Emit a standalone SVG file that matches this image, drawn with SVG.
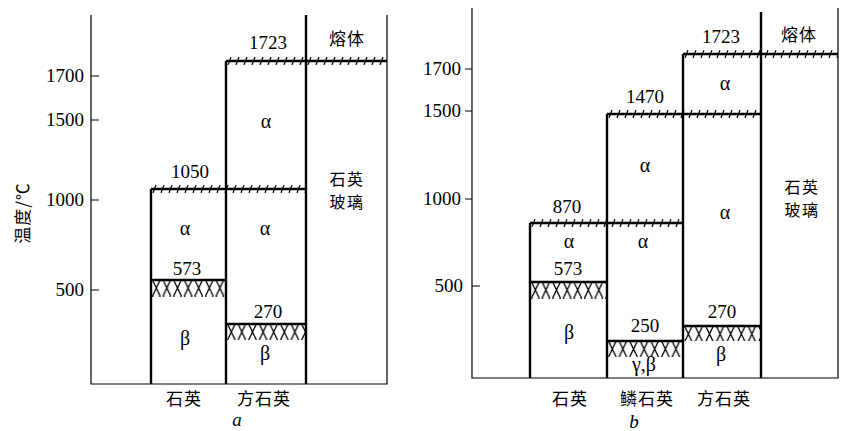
<svg xmlns="http://www.w3.org/2000/svg" width="842" height="431" viewBox="0 0 842 431">
<defs>
<pattern id="melt" patternUnits="userSpaceOnUse" x="0" y="-4" width="8" height="8">
<line x1="2" y1="8" x2="5" y2="0" stroke="#000" stroke-width="1.2"/>
</pattern>
<pattern id="cross" patternUnits="userSpaceOnUse" x="0" y="0" width="10.6" height="16">
<path d="M1.5,0 L9.1,16 M9.1,0 L1.5,16" stroke="#000" stroke-width="1.3" fill="none"/>
</pattern>
</defs>
<style>
.thin{stroke:#000;stroke-width:1.2;fill:none}
.thick{stroke:#000;stroke-width:2.4;fill:none}
.num{font-family:"Liberation Serif",serif;font-size:19px;text-anchor:middle;fill:#000}
.tk{font-family:"Liberation Serif",serif;font-size:19px;text-anchor:end;fill:#000}
.cjk{font-family:"Noto Sans CJK SC",sans-serif;font-size:17px;text-anchor:middle;fill:#000;letter-spacing:1px}
.cjk2{font-family:"Noto Sans CJK SC",sans-serif;font-size:16px;text-anchor:middle;fill:#000;letter-spacing:1.5px}
.gr{font-family:"Liberation Serif",serif;font-size:20px;text-anchor:middle;fill:#000}
.it{font-family:"Liberation Serif",serif;font-size:19px;font-style:italic;text-anchor:middle;fill:#000}
</style>
<rect width="842" height="431" fill="#fff"/>

<!-- Panel a -->
<g id="panel-a">
<g id="a-axes">
<path class="thin" d="M91,15 V384 H387 V15"/>
<path class="thin" d="M91,76 H99 M91,120 H99 M91,200 H99 M91,290 H99"/>
<text class="tk" x="84" y="82">1700</text>
<text class="tk" x="84" y="126">1500</text>
<text class="tk" x="84" y="206">1000</text>
<text class="tk" x="84" y="296">500</text>
<text class="cjk" transform="translate(29,213) rotate(-90)">温度/℃</text>
</g>
<g id="a-hatch">
<g transform="translate(226,61)"><rect x="0" y="-4" width="161" height="8" fill="url(#melt)"/></g>
<g transform="translate(151,189)"><rect x="0" y="-4" width="155" height="8" fill="url(#melt)"/></g>
<g transform="translate(151,280)"><rect x="0" y="0" width="75" height="17" fill="url(#cross)"/></g>
<g transform="translate(226,324)"><rect x="0" y="0" width="80" height="16" fill="url(#cross)"/></g>
</g>
<g id="a-lines">
<path class="thick" d="M226,61 H387 M151,189 H306 M151,280 H226 M226,324 H306"/>
<path class="thick" d="M151,189 V384 M226,61 V384 M306,15 V384"/>
</g>
<g id="a-labels">
<text class="num" x="268" y="49">1723</text>
<text class="cjk" x="347" y="45">熔体</text>
<text class="gr" x="266" y="128">α</text>
<text class="num" x="190" y="178">1050</text>
<text class="cjk2" x="347" y="185">石英</text>
<text class="cjk2" x="347" y="208">玻璃</text>
<text class="gr" x="185" y="235">α</text>
<text class="gr" x="265" y="235">α</text>
<text class="num" x="187" y="275">573</text>
<text class="gr" x="185" y="345">β</text>
<text class="num" x="268" y="318">270</text>
<text class="gr" x="265" y="360">β</text>
<text class="cjk" x="184" y="405">石英</text>
<text class="cjk" x="264" y="405">方石英</text>
<text class="it" x="237" y="426">a</text>
</g>
</g>

<!-- Panel b -->
<g id="panel-b">
<g id="b-axes">
<path class="thin" d="M472,8 V378 H838 V8"/>
<path class="thin" d="M465,69 H472 M465,111 H472 M465,199 H472 M472,286 H480"/>
<text class="tk" x="461" y="75">1700</text>
<text class="tk" x="461" y="117">1500</text>
<text class="tk" x="461" y="205">1000</text>
<text class="tk" x="463" y="292">500</text>
</g>
<g id="b-hatch">
<g transform="translate(683,54)"><rect x="0" y="-4" width="155" height="8" fill="url(#melt)"/></g>
<g transform="translate(607,114)"><rect x="0" y="-4" width="154" height="8" fill="url(#melt)"/></g>
<g transform="translate(530,223)"><rect x="0" y="-4" width="153" height="8" fill="url(#melt)"/></g>
<g transform="translate(530,282)"><rect x="0" y="0" width="77" height="17" fill="url(#cross)"/></g>
<g transform="translate(607,341)"><rect x="0" y="0" width="76" height="16" fill="url(#cross)"/></g>
<g transform="translate(683,326)"><rect x="0" y="0" width="78" height="15" fill="url(#cross)"/></g>
</g>
<g id="b-lines">
<path class="thick" d="M683,54 H838 M607,114 H761 M530,223 H683 M530,282 H607 M607,341 H683 M683,326 H761"/>
<path class="thick" d="M530,223 V378 M607,114 V378 M683,54 V378 M761,12 V378"/>
</g>
<g id="b-labels">
<text class="num" x="721" y="43">1723</text>
<text class="cjk" x="799" y="41">熔体</text>
<text class="gr" x="725" y="90">α</text>
<text class="num" x="645" y="103">1470</text>
<text class="gr" x="645" y="172">α</text>
<text class="cjk2" x="802" y="193">石英</text>
<text class="cjk2" x="802" y="216">玻璃</text>
<text class="gr" x="725" y="219">α</text>
<text class="num" x="567" y="213">870</text>
<text class="gr" x="569" y="248">α</text>
<text class="gr" x="643" y="248">α</text>
<text class="num" x="568" y="275">573</text>
<text class="gr" x="569" y="339">β</text>
<text class="num" x="645" y="332">250</text>
<text class="gr" x="644" y="371">γ,β</text>
<text class="num" x="722" y="318">270</text>
<text class="gr" x="721" y="361">β</text>
<text class="cjk" x="570" y="405">石英</text>
<text class="cjk" x="647" y="405">鳞石英</text>
<text class="cjk" x="724" y="405">方石英</text>
<text class="it" x="634" y="428">b</text>
</g>
</g>
</svg>
